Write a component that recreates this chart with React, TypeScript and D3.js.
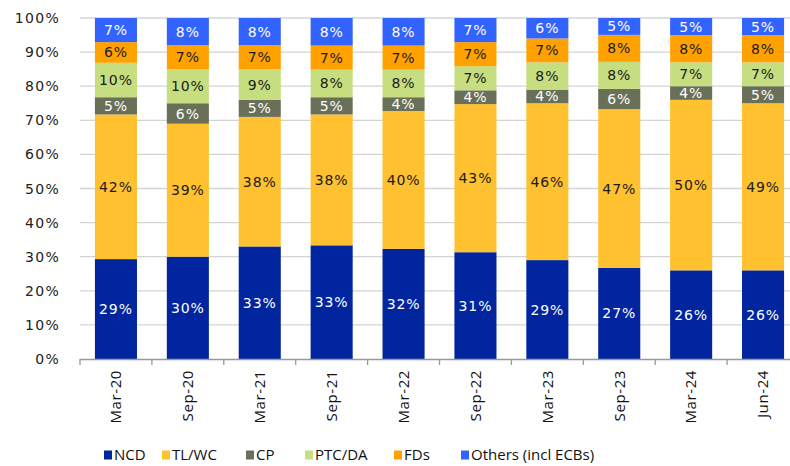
import React, { useRef, useEffect } from 'react'
import * as d3 from 'd3'

const periods = ['Mar-20', 'Sep-20', 'Mar-21', 'Sep-21', 'Mar-22', 'Sep-22', 'Mar-23', 'Sep-23', 'Mar-24', 'Jun-24']
const seriesNames = ['NCD', 'TL/WC', 'CP', 'PTC/DA', 'FDs', 'Others (incl ECBs)']
const ncd = [29, 30, 33, 33, 32, 31, 29, 27, 26, 26]
const tlwc = [42, 39, 38, 38, 40, 43, 46, 47, 50, 49]
const cp = [5, 6, 5, 5, 4, 4, 4, 6, 4, 5]
const ptcda = [10, 10, 9, 8, 8, 7, 8, 8, 7, 7]
const fds = [6, 7, 7, 7, 7, 7, 7, 8, 8, 8]
const others = [7, 8, 8, 8, 8, 7, 6, 5, 5, 5]
const yTicks = [0, 0.1, 0.2, 0.3, 0.4, 0.5, 0.6, 0.7, 0.8, 0.9, 1]

const colors = ['#00259e', '#ffc12f', '#6a6f58', '#c7de80', '#ffa200', '#3363fe']
const labelColors = ['#ffffff', '#1a1a1a', '#ffffff', '#1a1a1a', '#1a1a1a', '#ffffff']
const legendX = [104, 162, 246, 305, 394, 461]

const App = () => {
	const svgRef = useRef(null)

	useEffect(() => {
		const svg = d3.select(svgRef.current)
		svg.selectAll('*').remove()

		const left = 80, top = 18, bottom = 359, bandW = 71.9
		const numFont = 'DejaVu Sans, Verdana, sans-serif'

		const rows = periods.map((p, i) => ({
			period: p,
			'NCD': ncd[i],
			'TL/WC': tlwc[i],
			'CP': cp[i],
			'PTC/DA': ptcda[i],
			'FDs': fds[i],
			'Others (incl ECBs)': others[i],
		}))

		const stacked = d3.stack().keys(seriesNames).offset(d3.stackOffsetExpand)(rows)

		const x = d3.scaleBand().domain(periods).range([left, left + bandW * periods.length]).paddingInner(0.415).paddingOuter(0.2075)
		const y = d3.scaleLinear().domain([0, 1]).range([bottom, top])

		// gridlines
		svg.append('g')
			.selectAll('line')
			.data(yTicks.slice(1))
			.join('line')
			.attr('x1', left)
			.attr('x2', 790)
			.attr('y1', (d) => y(d))
			.attr('y2', (d) => y(d))
			.style('stroke', '#d4d4d4')
			.style('stroke-width', 1.3)

		svg.append('g')
			.selectAll('text')
			.data(yTicks)
			.join('text')
			.attr('x', 60)
			.attr('y', (d) => y(d))
			.attr('dy', '0.36em')
			.attr('text-anchor', 'end')
			.style('font-family', numFont)
			.style('font-size', '14px')
			.style('letter-spacing', '1.3px')
			.style('fill', '#222')
			.text((d) => d3.format('.0%')(d))

		const groups = svg.append('g')
			.selectAll('g')
			.data(stacked)
			.join('g')
			.style('fill', (d, i) => colors[i])

		groups.selectAll('rect')
			.data((d) => d)
			.join('rect')
			.attr('x', (d) => x(d.data.period))
			.attr('y', (d) => y(d[1]))
			.attr('width', x.bandwidth())
			.attr('height', (d) => y(d[0]) - y(d[1]))

		stacked.forEach((s, si) => {
			svg.append('g')
				.selectAll('text')
				.data(s)
				.join('text')
				.attr('x', (d) => x(d.data.period) + x.bandwidth() / 2)
				.attr('y', (d) => (y(d[0]) + y(d[1])) / 2)
				.attr('dy', '0.36em')
				.attr('text-anchor', 'middle')
				.style('font-family', numFont)
				.style('font-size', '14px')
				.style('letter-spacing', '0.9px')
				.style('fill', labelColors[si])
				.text((d) => d.data[s.key] + '%')
		})

		// x axis
		const axis = svg.append('g')
		axis.append('line')
			.attr('x1', left)
			.attr('x2', 790)
			.attr('y1', bottom + 0.5)
			.attr('y2', bottom + 0.5)
			.style('stroke', '#999')
			.style('stroke-width', 1.3)
		axis.selectAll('line.tick')
			.data(d3.range(periods.length + 1))
			.join('line')
			.attr('class', 'tick')
			.attr('x1', (i) => left + i * bandW)
			.attr('x2', (i) => left + i * bandW)
			.attr('y1', bottom)
			.attr('y2', bottom + 6)
			.style('stroke', '#999')
			.style('stroke-width', 1.3)
		axis.selectAll('text')
			.data(periods)
			.join('text')
			.attr('transform', (d) => `translate(${x(d) + x.bandwidth() / 2},370) rotate(-90)`)
			.attr('dy', '0.35em')
			.attr('text-anchor', 'end')
			.style('font-family', 'Open Sans, sans-serif')
			.style('font-size', '15px')
			.style('letter-spacing', '0.6px')
			.style('fill', '#111')
			.text((d) => d)

		// legend
		const legend = svg.append('g')
			.selectAll('g')
			.data(seriesNames)
			.join('g')
			.attr('transform', (d, i) => `translate(${legendX[i]},455)`)
		legend.append('rect')
			.attr('x', 0)
			.attr('y', -4.5)
			.attr('width', 8)
			.attr('height', 9)
			.style('fill', (d, i) => colors[i])
		legend.append('text')
			.attr('x', 10)
			.attr('dy', '0.36em')
			.style('font-family', 'Open Sans, sans-serif')
			.style('font-size', '15px')
			.style('fill', '#111')
			.text((d) => d)
	}, [])

	return <svg ref={svgRef} width={790} height={466} style={{ position: 'absolute', left: 0, top: 0, background: '#fff' }}></svg>
}

export default App
